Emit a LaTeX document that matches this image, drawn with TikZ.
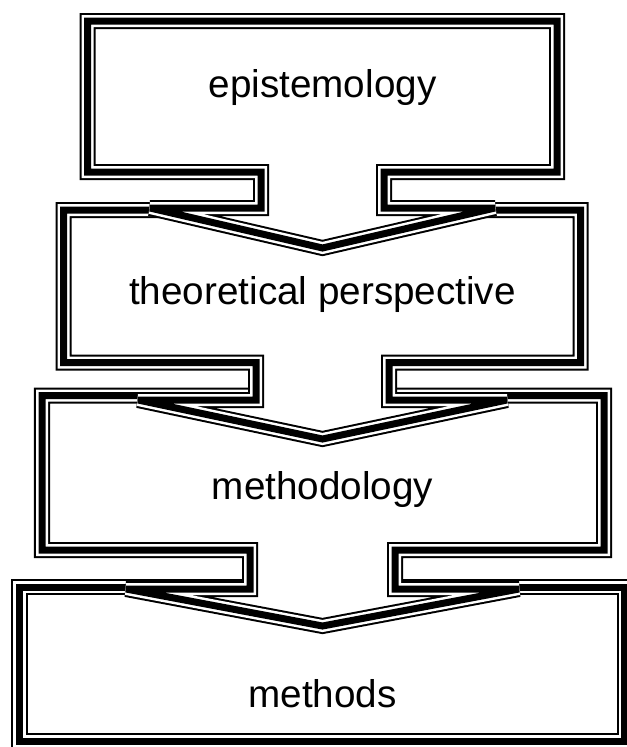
\documentclass[tikz,border=0pt]{standalone}
\usepackage{fontspec}
\setmainfont{Liberation Sans}
\usepackage{tikz}
\usetikzlibrary{positioning}

\tikzset{
    triple/.style={fill=white, draw=black, line width=0.48cm, miter limit=2,
        postaction={draw=white, line width=0.36cm},
        postaction={draw=black, line width=0.21cm}},
    label/.style={anchor=base, font=\fontsize{33}{40}\selectfont}
}

\begin{document}
\begin{tikzpicture}[x=0.03cm, y=-0.03cm]
    \useasboundingbox (0, 0) rectangle (627, 747);

    % methods
    \draw[triple] (19.5, 587) rectangle (624.5, 741);
    % methodology
    \draw[triple] (42, 395.5) -- (604, 395.5) -- (604, 550) -- (395, 550) -- (395, 589)
        -- (519, 589) -- (322.5, 626) -- (126, 589) -- (250, 589) -- (250, 550) -- (42, 550) -- cycle;
    % theoretical perspective
    \draw[triple] (63.5, 210) -- (580.5, 210) -- (580.5, 362.5) -- (389, 362.5) -- (389, 400)
        -- (507, 400) -- (322.5, 439) -- (138, 400) -- (256, 400) -- (256, 362.5) -- (63.5, 362.5) -- cycle;
    % epistemology
    \draw[triple] (87.5, 21) -- (557, 21) -- (557, 172) -- (384, 172) -- (384, 208)
        -- (495, 208) -- (322.5, 248) -- (150, 208) -- (261, 208) -- (261, 172) -- (87.5, 172) -- cycle;

    \node[label] (epi) at (322.5, 97) {epistemology};
    \node[label] (theo) at (322.5, 304) {theoretical perspective};
    \node[label] (methlogy) at (322.5, 499) {methodology};
    \node[label] (meth) at (322.5, 707) {methods};
\end{tikzpicture}
\end{document}
